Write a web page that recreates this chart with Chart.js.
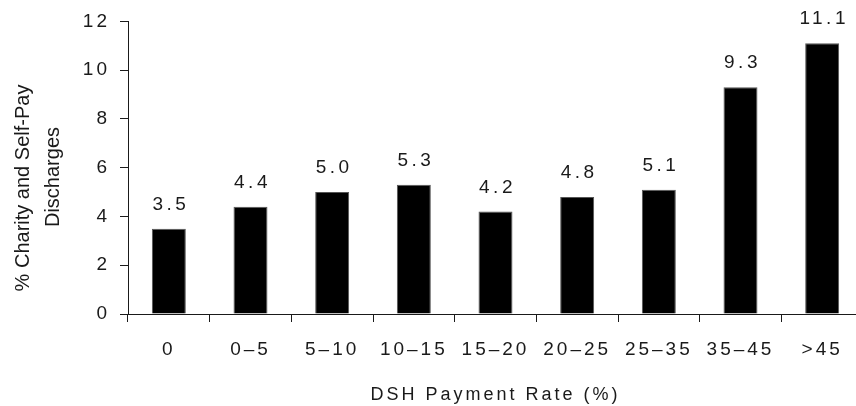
<!DOCTYPE html>
<html>
<head>
<meta charset="utf-8">
<script src="https://cdn.jsdelivr.net/npm/chart.js@4/dist/chart.umd.min.js"></script>
<style>
  html, body { margin: 0; padding: 0; background: #fff; overflow: hidden; }
  #wrap { width: 872px; height: 406px; }
</style>
</head>
<body>
<div id="wrap"><canvas id="c" width="872" height="406"></canvas></div>
<script>
// DSH payment rate bands and share of charity / self-pay discharges
const categories = ['0', '0\u20135', '5\u201310', '10\u201315', '15\u201320', '20\u201325', '25\u201335', '35\u201345', '>45'];
const dischargeShare = [3.5, 4.4, 5.0, 5.3, 4.2, 4.8, 5.1, 9.3, 11.1];
const yTicks = [0, 2, 4, 6, 8, 10, 12];
const yTitleLines = ['% Charity and Self-Pay', 'Discharges'];
const xTitle = 'DSH Payment Rate (%)';

const FONT = 'Liberation Sans, Arial, sans-serif';
const INK = '#1a1a1a';

// spaced-out lettering for ticks and values
const spacing = {
  id: 'spacing',
  beforeLayout(chart) { chart.ctx.letterSpacing = '3px'; },
  beforeDraw(chart) { chart.ctx.letterSpacing = '3px'; }
};

// value printed above each bar
const barValues = {
  id: 'barValues',
  afterDatasetsDraw(chart) {
    const ctx = chart.ctx;
    const meta = chart.getDatasetMeta(0);
    ctx.save();
    ctx.letterSpacing = '3.5px';
    ctx.font = '19px ' + FONT;
    ctx.fillStyle = INK;
    ctx.textAlign = 'center';
    ctx.textBaseline = 'alphabetic';
    meta.data.forEach((bar, i) => {
      ctx.fillText(dischargeShare[i].toFixed(1), bar.x + 2, bar.y - 19);
    });
    ctx.restore();
  }
};

// two-line rotated y title
const yTitle = {
  id: 'yTitle',
  afterDraw(chart) {
    const ctx = chart.ctx;
    ctx.save();
    ctx.letterSpacing = '0px';
    ctx.font = '20px ' + FONT;
    ctx.fillStyle = INK;
    ctx.textAlign = 'center';
    ctx.textBaseline = 'alphabetic';
    const spots = [{ x: 29, y: 188 }, { x: 59, y: 177 }];
    yTitleLines.forEach((line, i) => {
      ctx.save();
      ctx.translate(spots[i].x, spots[i].y);
      ctx.rotate(-Math.PI / 2);
      ctx.fillText(line, 0, 0);
      ctx.restore();
    });
    ctx.restore();
  }
};

new Chart(document.getElementById('c'), {
  type: 'bar',
  data: {
    labels: categories,
    datasets: [{
      data: dischargeShare,
      backgroundColor: '#000',
      borderColor: '#555',
      borderWidth: 1,
      categoryPercentage: 1,
      barPercentage: 0.416
    }]
  },
  options: {
    responsive: false,
    animation: false,
    devicePixelRatio: 1,
    layout: { padding: { top: 19, right: 9, left: 0, bottom: 0 } },
    plugins: { legend: { display: false }, tooltip: { enabled: false } },
    scales: {
      x: {
        offset: true,
        grid: {
          offset: true,
          drawOnChartArea: false,
          drawTicks: true,
          tickLength: 8,
          color: INK
        },
        border: { display: true, color: INK, width: 1 },
        ticks: { color: INK, font: { family: FONT, size: 19 }, padding: 16, maxRotation: 0, autoSkip: false },
        title: {
          display: true,
          text: xTitle,
          color: INK,
          font: { family: FONT, size: 18 },
          padding: { top: 10, bottom: 0 }
        },
        afterFit(scale) { scale.height = 92; }
      },
      y: {
        min: 0,
        max: 12,
        afterBuildTicks(scale) { scale.ticks = yTicks.map(v => ({ value: v })); },
        grid: {
          drawOnChartArea: false,
          drawTicks: true,
          tickLength: 8,
          color: INK
        },
        border: { display: true, color: INK, width: 1 },
        ticks: { color: INK, font: { family: FONT, size: 19 }, padding: 10 },
        afterFit(scale) { scale.width = 128; }
      }
    }
  },
  plugins: [spacing, barValues, yTitle]
});
</script>
</body>
</html>
